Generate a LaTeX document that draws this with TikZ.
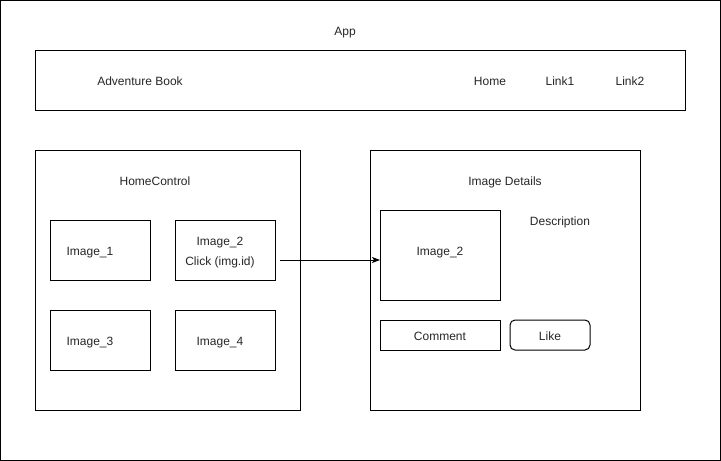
\documentclass[tikz,border=0pt]{standalone}
\usepackage{fontspec}
\setmainfont{Liberation Sans}
\usetikzlibrary{arrows.meta}

\tikzset{
    panel/.style={draw, line width=1pt, inner sep=0pt, outer sep=0pt, anchor=north west},
    imgbox/.style={draw, line width=1pt, inner sep=0pt, outer sep=0pt, minimum width=100pt, minimum height=60pt},
    label/.style={inner sep=0pt, anchor=base, yshift=-5pt, text=black!85}
}

\begin{document}
\begin{tikzpicture}[x=1pt, y=-1pt, font=\fontsize{12}{14}\selectfont]
            \useasboundingbox (0,0) rectangle (721,461);
            \draw[line width=1pt] (0.5,0.5) rectangle (720.5,460.5);
            \node[label] (app) at (345,30) {App};
            % header bar
            \node[panel, minimum width=650pt, minimum height=60pt] (header) at (35,50) {};
            \node[label] (title) at (140,80) {Adventure Book};
            \node[label] (home) at (490,80) {Home};
            \node[label] (link1) at (560,80) {Link1};
            \node[label] (link2) at (630,80) {Link2};
            % home control
            \node[panel, minimum width=265pt, minimum height=260pt] (homectl) at (35,150) {};
            \node[label] at (155,180) {HomeControl};
            \node[imgbox] (img1) at (100,250) {};
            \node[imgbox] (img2) at (225,250) {};
            \node[imgbox] (img3) at (100,340) {};
            \node[imgbox] (img4) at (225,340) {};
            \node[label] at (90,250) {Image\_1};
            \node[label] at (220,240) {Image\_2};
            \node[label] at (220,260) {Click (img.id)};
            \node[label] at (90,340) {Image\_3};
            \node[label] at (220,340) {Image\_4};
            % image details
            \node[panel, minimum width=270pt, minimum height=260pt] (details) at (370,150) {};
            \node[label] at (505,180) {Image Details};
            \node[label] (desc) at (560,220) {Description};
            \node[imgbox, minimum width=120pt, minimum height=90pt] (bigimg) at (440,255) {};
            \node[label] at (440,250) {Image\_2};
            \node[imgbox, minimum height=30pt, minimum width=120pt] (comment) at (440,335) {};
            \node[label] at (440,335) {Comment};
            \node[imgbox, minimum height=30pt, minimum width=80pt, rounded corners=5pt] (like) at (550,335) {};
            \node[label] at (550,335) {Like};
            \draw[line width=1pt, -{Stealth[length=8pt, width=6pt, inset=2pt]}, shorten <=5pt]
                (img2.east |- 0,260) -- (bigimg.west |- 0,260);
        \end{tikzpicture}
\end{document}
